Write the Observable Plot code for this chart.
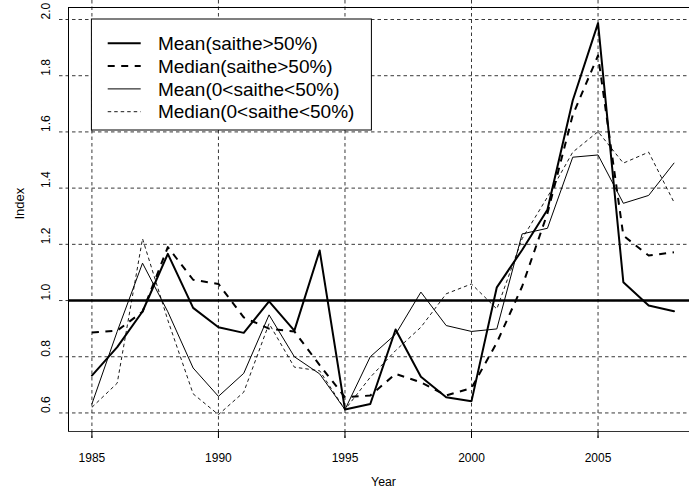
<!DOCTYPE html>
<html>
<head>
<meta charset="utf-8">
<script src="https://cdn.jsdelivr.net/npm/d3@7"></script>
<script src="https://cdn.jsdelivr.net/npm/@observablehq/plot@0.6"></script>
<style>
  html, body { margin: 0; padding: 0; background: #fff; }
  #chart { width: 689px; height: 500px; }
</style>
</head>
<body>
<div id="chart"></div>
<script>
// ---- data ----
const years = [1985, 1986, 1987, 1988, 1989, 1990, 1991, 1992, 1993, 1994, 1995, 1996,
               1997, 1998, 1999, 2000, 2001, 2002, 2003, 2004, 2005, 2006, 2007, 2008];
const meanHigh   = [0.733, 0.834, 0.961, 1.166, 0.974, 0.905, 0.885, 0.997, 0.893, 1.178, 0.612, 0.632,
                    0.897, 0.729, 0.656, 0.642, 1.047, 1.180, 1.323, 1.712, 1.987, 1.065, 0.982, 0.962];
const medianHigh = [0.886, 0.893, 0.960, 1.190, 1.074, 1.059, 0.940, 0.900, 0.890, 0.770, 0.656, 0.662,
                    0.739, 0.709, 0.662, 0.689, 0.850, 1.050, 1.310, 1.660, 1.872, 1.231, 1.160, 1.172];
const meanLow    = [0.632, 0.890, 1.133, 0.960, 0.760, 0.659, 0.741, 0.949, 0.800, 0.739, 0.612, 0.800,
                    0.880, 1.030, 0.911, 0.890, 0.899, 1.237, 1.257, 1.510, 1.518, 1.346, 1.374, 1.489];
const medianLow  = [0.620, 0.706, 1.220, 0.930, 0.668, 0.594, 0.674, 0.918, 0.763, 0.750, 0.612, 0.727,
                    0.822, 0.905, 1.024, 1.059, 0.970, 1.220, 1.368, 1.528, 1.601, 1.489, 1.528, 1.350];
const seriesNames = ["Mean(saithe>50%)", "Median(saithe>50%)", "Mean(0<saithe<50%)", "Median(0<saithe<50%)"];
const xTicks = [1985, 1990, 1995, 2000, 2005];
const yTicks = [0.6, 0.8, 1.0, 1.2, 1.4, 1.6, 1.8, 2.0];
const xLabel = "Year";
const yLabel = "Index";

// scale extents (R-style 4% padding; right side cut off by the window)
const xDomain = [1984.075, 2008.614];
const yDomain = [0.534, 2.0427];

const styles = [
  {strokeWidth: 2,   strokeDasharray: null,    strokeLinecap: "round"},
  {strokeWidth: 2,   strokeDasharray: "7,6.5", strokeLinecap: "butt"},
  {strokeWidth: 1,   strokeDasharray: null,    strokeLinecap: "round"},
  {strokeWidth: 0.9, strokeDasharray: "3.5,3", strokeLinecap: "butt"}
];
const seriesValues = [meanHigh, medianHigh, meanLow, medianLow];

const rows = [];
seriesValues.forEach((vals, s) => vals.forEach((v, i) => rows.push({series: seriesNames[s], year: years[i], value: v})));

const grid = {stroke: "#222", strokeWidth: 0.9, strokeDasharray: "3.5,3"};

const lineMarks = seriesNames.map((name, s) =>
  Plot.line(rows.filter(d => d.series === name), {
    x: "year", y: "value", stroke: "#000",
    strokeWidth: styles[s].strokeWidth,
    strokeDasharray: styles[s].strokeDasharray,
    strokeLinecap: styles[s].strokeLinecap,
    strokeLinejoin: "round"
  })
);

const plot = Plot.plot({
  width: 689,
  height: 500,
  marginLeft: 68,
  marginRight: 0,
  marginTop: 7,
  marginBottom: 69,
  x: {domain: xDomain, axis: null},
  y: {domain: yDomain, axis: null},
  style: {fontFamily: "'Liberation Sans', Arial, Helvetica, sans-serif", fontSize: "12px", background: "#fff", color: "#000"},
  marks: [
    Plot.ruleY(yTicks, {...grid, insetLeft: -9}),
    Plot.ruleX(xTicks, {...grid, insetTop: -7, insetBottom: -7}),
    Plot.ruleX([xDomain[0]], {stroke: "#000", strokeWidth: 1}),
    Plot.ruleY([yDomain[0]], {stroke: "#333", strokeWidth: 1}),
    Plot.ruleY([yDomain[1]], {stroke: "#000", strokeWidth: 1}),
    Plot.ruleY([1], {stroke: "#000", strokeWidth: 2.6}),
    ...lineMarks,
    Plot.ruleX(xTicks, {stroke: "#000", strokeWidth: 1, insetTop: 424, insetBottom: -7}),
    Plot.text(xTicks, {x: d => d, text: d => String(d), frameAnchor: "bottom", lineAnchor: "top", dy: 21.5, fontSize: 12}),
    Plot.text(yTicks, {y: d => d, text: d => d.toFixed(1), frameAnchor: "left", dx: -22, rotate: -90, fontSize: 12}),
    Plot.text([xLabel], {text: d => d, frameAnchor: "bottom", lineAnchor: "top", dy: 46, dx: 4.5, fontSize: 12.3}),
    Plot.text([yLabel], {text: d => d, frameAnchor: "left", dx: -49, rotate: -90, fontSize: 13})
  ]
});

document.getElementById("chart").appendChild(plot);

// ---- legend, anchored at (1985, 2.0) in data coordinates ----
const sx = plot.scale("x"), sy = plot.scale("y");
const lx = sx.apply(1985), ly = sy.apply(2.0);
const svg = d3.select(plot);
const g = svg.append("g").attr("class", "legend").attr("text-anchor", "start");
g.append("rect")
  .attr("x", lx).attr("y", ly)
  .attr("width", 280).attr("height", 111)
  .attr("fill", "#fff").attr("stroke", "#000").attr("stroke-width", 1);
seriesNames.forEach((name, i) => {
  const yy = ly + 24.3 + i * 22.8;
  g.append("line")
    .attr("x1", lx + 16.3).attr("x2", lx + 49.3)
    .attr("y1", yy).attr("y2", yy)
    .attr("stroke", "#000")
    .attr("stroke-width", styles[i].strokeWidth)
    .attr("stroke-dasharray", styles[i].strokeDasharray)
    .attr("stroke-linecap", "butt");
  g.append("text")
    .attr("x", lx + 66.5).attr("y", yy)
    .attr("dy", "0.35em")
    .attr("text-anchor", "start")
    .attr("font-size", 19)
    .attr("fill", "#000")
    .text(name);
});
</script>
</body>
</html>
